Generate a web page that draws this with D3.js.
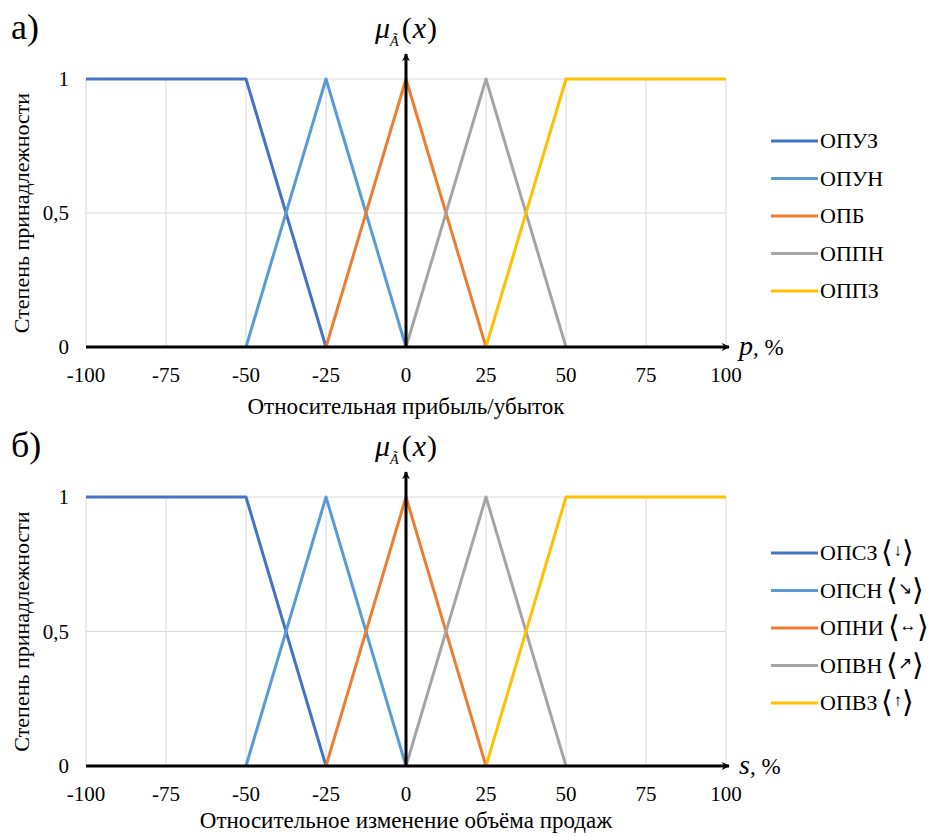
<!DOCTYPE html>
<html><head><meta charset="utf-8">
<script src="https://cdn.jsdelivr.net/npm/d3@7"></script>
</head><body style="margin:0;overflow:hidden"><svg id="c" width="929" height="836"></svg>
<script>
const xTicks = [-100,-75,-50,-25,0,25,50,75,100];
const yTicks = [0,0.5,1];
const yTickLabels = ["0","0,5","1"];
const colors = ["#4472C4","#5B9BD5","#ED7D31","#A5A5A5","#FFC000"];
const seriesX = [[-100,-50,-25],[-50,-25,0],[-25,0,25],[0,25,50],[25,50,100]];
const seriesY = [[1,1,0],[0,1,0],[0,1,0],[0,1,0],[0,1,1]];
const namesA = ["ОПУЗ","ОПУН","ОПБ","ОППН","ОППЗ"];
const namesB = ["ОПСЗ","ОПСН","ОПНИ","ОПВН","ОПВЗ"];
const symbolsB = ["↓","↘","↔","↗","↑"];
const yTitle = "Степень принадлежности";
const xTitleA = "Относительная прибыль/убыток";
const xTitleB = "Относительное изменение объёма продаж";

const SERIF = "'Liberation Serif', Tinos, 'Times New Roman', serif";
const root = d3.select("#c").attr("font-family", "Liberation Serif");
const defs = root.append("defs");
defs.append("marker").attr("id","arr").attr("viewBox","0 0 10 10").attr("refX",9).attr("refY",5)
  .attr("markerWidth",8).attr("markerHeight",8).attr("markerUnits","userSpaceOnUse")
  .attr("orient","auto").append("path").attr("d","M0,0 L10,5 L0,10 L3,5 Z").attr("fill","#000");
const svg = root.append("g");

function txt(sel){ return sel.attr("font-family","Liberation Serif").style("font-family",SERIF); }

function panel(top, bottom, letter, names, syms, varName, xTitle, legendY, titleDy){
  const x = d3.scaleLinear().domain([-100,100]).range([86,726]);
  const y = d3.scaleLinear().domain([0,1]).range([bottom, top]);
  const g = svg.append("g");
  g.selectAll(".vg").data(xTicks).enter().append("line")
    .attr("x1",d=>x(d)).attr("x2",d=>x(d)).attr("y1",y(0)).attr("y2",y(1)).attr("stroke","#d9d9d9").attr("stroke-width",1);
  g.selectAll(".hg").data(yTicks.filter(d=>d>0)).enter().append("line")
    .attr("x1",x(-100)).attr("x2",x(100)).attr("y1",d=>y(d)).attr("y2",d=>y(d)).attr("stroke","#d9d9d9");
  const line = d3.line().x(d=>x(d[0])).y(d=>y(d[1]));
  seriesX.forEach((xs,i)=>{
    const pts = xs.map((v,j)=>[v, seriesY[i][j]]);
    g.append("path").attr("d",line(pts)).attr("fill","none").attr("stroke",colors[i]).attr("stroke-width",3).attr("stroke-linejoin","round");
  });
  g.append("line").attr("x1",x(-100)).attr("x2",x(100)+3).attr("y1",y(0)).attr("y2",y(0))
    .attr("stroke","#000").attr("stroke-width",3).attr("marker-end","url(#arr)");
  g.append("line").attr("x1",x(0)).attr("x2",x(0)).attr("y1",y(0)).attr("y2",y(1)-25)
    .attr("stroke","#000").attr("stroke-width",3).attr("marker-end","url(#arr)");
  txt(g.selectAll(".xt").data(xTicks).enter().append("text").attr("x",d=>x(d)).attr("y",y(0)+35)
    .attr("text-anchor","middle").attr("font-size",21).text(d=>d));
  txt(g.selectAll(".yt").data(yTicks).enter().append("text").attr("x",69).attr("y",d=>y(d)+7)
    .attr("text-anchor","end").attr("font-size",21).text((d,i)=>yTickLabels[i]));
  txt(g.append("text").attr("transform",`translate(29,${(y(0)+y(1))/2}) rotate(-90)`).attr("text-anchor","middle")
    .attr("font-size",22).text(yTitle));
  txt(g.append("text").attr("x",406).attr("y",y(0)+titleDy).attr("text-anchor","middle").attr("font-size",23).text(xTitle));
  txt(g.append("text").attr("x",11).attr("y",y(1)-40).attr("font-size",36).text(letter));
  const vl = txt(g.append("text").attr("x",739).attr("y",y(0)+8).attr("font-size",28));
  vl.append("tspan").attr("font-style","italic").text(varName);
  vl.append("tspan").attr("font-size",23).text(", %");
  const mu = txt(g.append("text").attr("x",375).attr("y",y(1)-41).attr("font-size",30));
  mu.append("tspan").attr("font-style","italic").text("μ");
  mu.append("tspan").attr("font-style","italic").attr("font-size",14).attr("dy",8).text("Ã");
  mu.append("tspan").attr("dy",-8).attr("dx",3).text("(");
  mu.append("tspan").attr("font-style","italic").attr("dx",1).text("x");
  mu.append("tspan").attr("dx",1).text(")");
  names.forEach((n,i)=>{
    const ly = legendY + i*37.5;
    g.append("line").attr("x1",771).attr("x2",818).attr("y1",ly).attr("y2",ly).attr("stroke",colors[i]).attr("stroke-width",3);
    const t = txt(g.append("text").attr("x",820).attr("y",ly+7).attr("font-size",22).text(n));
    if(syms){
      t.append("tspan").attr("font-size",30).attr("dx",4).attr("dy",2).text("⟨");
      t.append("tspan").attr("font-size",17).attr("dy",-6).text(syms[i]);
      t.append("tspan").attr("font-size",30).attr("dy",6).text("⟩");
    }
  });
}
panel(79, 347, "а)", namesA, null, "p", xTitleA, 141, 67);
panel(497, 766, "б)", namesB, symbolsB, "s", xTitleB, 553, 62);
</script></body></html>
